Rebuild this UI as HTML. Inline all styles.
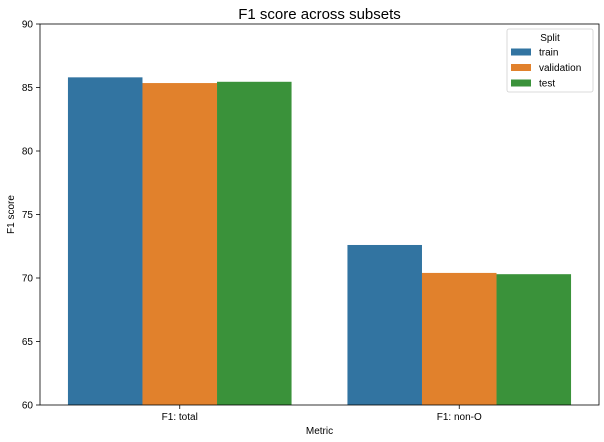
<!DOCTYPE html>
<html><head><meta charset="utf-8"><style>
html,body{margin:0;padding:0;background:#fff;}
svg{display:block;font-family:"Liberation Sans","DejaVu Sans",sans-serif;}
</style></head><body>
<svg id="chart" width="604" height="442"></svg>
<script>
const categories = ["F1: total", "F1: non-O"];
const series = ["train", "validation", "test"];
const trainValues = [85.8, 72.6];
const validationValues = [85.35, 70.4];
const testValues = [85.45, 70.3];
const yTicks = [60, 65, 70, 75, 80, 85, 90];
const colors = ["#3274a1", "#e1812c", "#3a923a"];

const NS = "http://www.w3.org/2000/svg";
const svg = document.getElementById("chart");
const L = 40, R = 599, T = 24, B = 405, yMin = 60, yMax = 90;
function y(v){ return B - (v - yMin) / (yMax - yMin) * (B - T); }
const band = (R - L) / categories.length;
function xc(i){ return L + band * (i + 0.5); }
function mk(tag, attrs, text){
  const e = document.createElementNS(NS, tag);
  for (const k in attrs) e.setAttribute(k, attrs[k]);
  if (text !== undefined) e.textContent = text;
  svg.appendChild(e); return e;
}
const vals = [trainValues, validationValues, testValues];
const bw = band * 0.8 / series.length;
// bars
vals.forEach((arr, s) => {
  arr.forEach((v, i) => {
    const x0 = xc(i) - band * 0.4 + s * bw;
    const r = mk("rect", {x: x0, y: y(v), width: bw, height: B - y(v), fill: colors[s]});
    
    
  });
});
// axes frame
const fr = mk("rect", {x: L, y: T, width: R - L, height: B - T, fill: "none", stroke: "#000", "stroke-width": 0.8});


// y ticks
yTicks.forEach(t => {
  const ln = mk("line", {x1: L - 4, x2: L, y1: y(t), y2: y(t), stroke: "#000", "stroke-width": 0.8});
  
  
  const tx = mk("text", {x: L - 7, y: y(t) + 3.5, "font-size": 10, "text-anchor": "end", fill: "#000"}, t);
  
  
});
// x ticks
categories.forEach((c, i) => {
  const ln = mk("line", {x1: xc(i), x2: xc(i), y1: B, y2: B + 4, stroke: "#000", "stroke-width": 0.8});
  
  
  const tx = mk("text", {x: xc(i), y: B + 15, "font-size": 10, "text-anchor": "middle", fill: "#000"}, c);
  
  
});
const title = mk("text", {x: (L + R) / 2, y: 19, "font-size": 15, "text-anchor": "middle", fill: "#000"}, "F1 score across subsets");


const xt = mk("text", {x: (L + R) / 2, y: 434, "font-size": 10, "text-anchor": "middle", fill: "#000"}, "Metric");


const yt = mk("text", {x: 14, y: (T + B) / 2, "font-size": 10, "text-anchor": "middle", fill: "#000", transform: "rotate(-90 14 " + (T + B) / 2 + ")"}, "F1 score");


// legend
const lg = mk("rect", {x: 507, y: 29, width: 86, height: 63, rx: 2, fill: "#fff", stroke: "#d0d0d0", "stroke-width": 0.8});


const lt = mk("text", {x: 550, y: 41, "font-size": 10, "text-anchor": "middle", fill: "#000"}, "Split");


series.forEach((s, k) => {
  const yy = 52 + k * 15.5;
  const p = mk("rect", {x: 511, y: yy - 3.5, width: 20, height: 7, fill: colors[k]});
  
  
  const t = mk("text", {x: 539, y: yy + 3.5, "font-size": 10, fill: "#000"}, s);
  
  
});
</script>
</body></html>
